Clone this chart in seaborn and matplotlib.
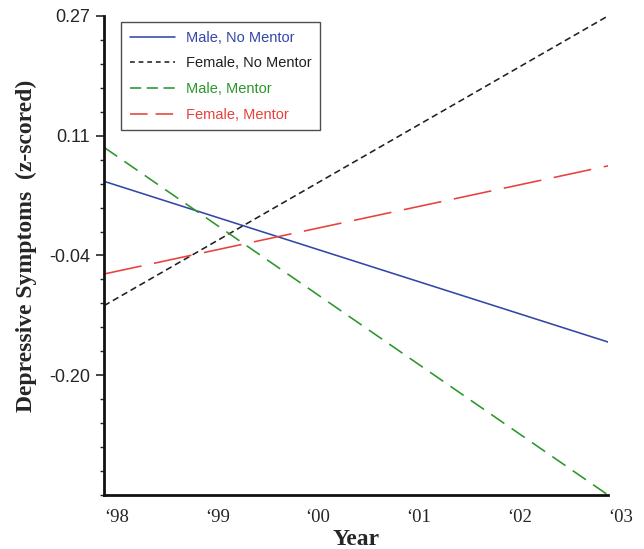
import numpy as np
import pandas as pd
import matplotlib
matplotlib.use('Agg')
import matplotlib.pyplot as plt
import seaborn as sns

sns.set_style('ticks')

years = [1998, 2003]
groups = ['Male, No Mentor', 'Female, No Mentor', 'Male, Mentor', 'Female, Mentor']
male_no_mentor = [0.056, -0.152]
female_no_mentor = [-0.105, 0.27]
male_mentor = [0.10, -0.35]
female_mentor = [-0.064, 0.076]
ytick_vals = [0.27, 0.115, -0.04, -0.195]
ytick_labels = ['0.27', '0.11', '-0.04', '-0.20']
xtick_labels = ['\u201898', '\u201899', '\u201800', '\u201801', '\u201802', '\u201803']

series = [male_no_mentor, female_no_mentor, male_mentor, female_mentor]
rows = []
for g, vals in zip(groups, series):
    for yr, v in zip(years, vals):
        rows.append({'Year': yr, 'value': v, 'group': g})
df = pd.DataFrame(rows)

colors = {'Male, No Mentor': '#3446a8', 'Female, No Mentor': '#202020',
          'Male, Mentor': '#2a962a', 'Female, Mentor': '#e8403a'}
dashes = {'Male, No Mentor': '', 'Female, No Mentor': (4, 2.4),
          'Male, Mentor': (10, 5.5), 'Female, Mentor': (24, 8)}

fig = plt.figure(figsize=(6.44, 5.49), dpi=100)
ax = fig.add_axes([0.1615, 0.0984, 0.7826, 0.8725])
sns.lineplot(data=df, x='Year', y='value', hue='group', style='group',
             palette=colors, dashes=dashes, hue_order=groups, style_order=groups,
             linewidth=1.15, ax=ax)

ax.set_xlim(1998, 2003)
ax.set_ylim(-0.35, 0.27)
ax.set_xticks(range(1998, 2004))
ax.set_xticklabels(xtick_labels, fontfamily='Liberation Serif', fontsize=13.5, ha='left')
ax.tick_params(axis='x', length=0, pad=10)

ax.set_yticks(ytick_vals)
ax.set_yticklabels(ytick_labels, fontfamily='Liberation Sans', fontsize=13)
ax.set_yticks(np.arange(-0.35, 0.2701, 0.031), minor=True)
ax.tick_params(axis='y', which='major', length=6, width=1.2, pad=4)
ax.tick_params(axis='y', which='minor', length=3, width=1.0)

for s in ['top', 'right']:
    ax.spines[s].set_visible(False)
for s in ['left', 'bottom']:
    ax.spines[s].set_linewidth(2.0)
    ax.spines[s].set_color('#111111')

ax.set_xlabel('Year', fontfamily='Liberation Serif', fontweight='bold', fontsize=17)
ax.xaxis.set_label_coords(0.5, -0.07)
ax.set_ylabel('Depressive Symptoms  (z-scored)', fontfamily='Liberation Serif',
              fontweight='bold', fontsize=17)
ax.yaxis.set_label_coords(-0.132, 0.52)

leg = ax.legend(loc='upper left', bbox_to_anchor=(0.034, 0.9875), frameon=True,
                fancybox=False, edgecolor='#222222', labelcolor='linecolor',
                prop={'family': 'Liberation Sans', 'size': 10.5},
                handlelength=3.1, handletextpad=0.75, labelspacing=0.8,
                borderpad=0.6, borderaxespad=0)
leg.get_frame().set_linewidth(1.0)
# shorter dash patterns in the legend so each key shows its style
for h, d in zip(leg.get_lines(), [None, (3, 2.4), (7, 3.5), (11, 5)]):
    if d is not None:
        h.set_dashes(d)

fig.savefig('out.png', dpi=100)
